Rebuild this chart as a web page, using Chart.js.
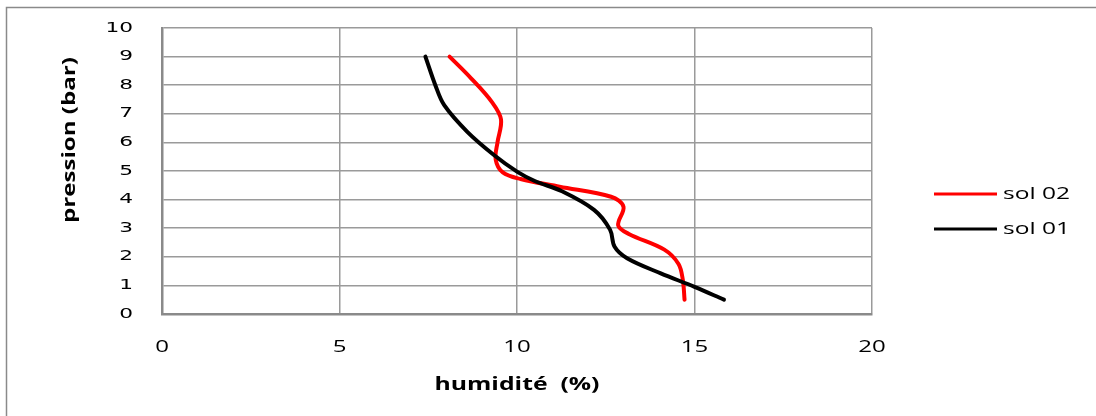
<!DOCTYPE html>
<html>
<head>
<meta charset="utf-8">
<script src="https://cdn.jsdelivr.net/npm/chart.js@4"></script>
<style>
html,body{margin:0;padding:0;background:#fff;}
#wrap{position:absolute;left:0;top:0;width:1096px;height:416px;}
</style>
</head>
<body>
<div id="wrap"><canvas id="c" width="1096" height="416"></canvas></div>
<script>
// Series: humidity (%) vs pressure (bar)
const sol02Humidite = [8.1, 8.7, 9.3, 9.55, 9.45, 9.4, 9.6, 10.1, 11.2, 12.65, 13.0, 12.85, 13.15, 14.15, 14.55, 14.67, 14.72];
const sol02Pression = [9.0, 8.25, 7.4, 6.8, 6.0, 5.4, 4.95, 4.72, 4.45, 4.1, 3.75, 3.1, 2.8, 2.25, 1.75, 1.2, 0.5];
const sol01Humidite = [7.42, 7.7, 7.95, 8.6, 9.35, 10.0, 10.5, 11.25, 12.17, 12.62, 12.75, 13.1, 14.05, 15.0, 15.83];
const sol01Pression = [9.0, 8.0, 7.3, 6.37, 5.56, 4.98, 4.65, 4.3, 3.64, 2.95, 2.35, 1.95, 1.42, 0.95, 0.5];
const seriesNames = ['sol 02', 'sol 01'];
const seriesColors = ['#ff0000', '#000000'];
const xTickValues = [0, 5, 10, 15, 20];
const yTickValues = [0, 1, 2, 3, 4, 5, 6, 7, 8, 9, 10];
const xTitle = 'humidité  (%)';
const yTitle = 'pression (bar)';

function toPoints(xs, ys){ return xs.map((x,i)=>({x:x, y:ys[i]})); }

// draw text widened along its reading direction by factor k
function drawWide(ctx, text, x, y, k, align){
  ctx.save();
  ctx.translate(x, y);
  ctx.scale(k, 1);
  ctx.textAlign = align;
  ctx.fillText(text, 0, 0);
  ctx.restore();
}
function drawStretched(ctx, text, x, y, length, align){
  drawWide(ctx, text, x, y, length / ctx.measureText(text).width, align);
}

const framePlugin = {
  id: 'frame',
  beforeDraw(chart){
    const ctx = chart.ctx;
    ctx.save();
    ctx.fillStyle = '#fff';
    ctx.fillRect(0,0,chart.width,chart.height);
    ctx.strokeStyle = '#8a8a8a';
    ctx.lineWidth = 1.5;
    ctx.beginPath();
    ctx.moveTo(6.5, 420);
    ctx.lineTo(6.5, 7.5);
    ctx.lineTo(1100, 7.5);
    ctx.stroke();
    ctx.restore();
  },
  afterDraw(chart){
    const ctx = chart.ctx;
    const area = chart.chartArea;
    const xs = chart.scales.x, ys = chart.scales.y;
    ctx.save();
    ctx.fillStyle = '#000';
    ctx.textBaseline = 'middle';
    // tick labels, positioned by the library's scales
    ctx.font = '16px "Open Sans", "DejaVu Sans", sans-serif';
    xs.ticks.forEach(t => drawWide(ctx, String(t.value), xs.getPixelForValue(t.value), 347, 1.5, 'center'));
    ctx.font = '14px "DejaVu Sans", sans-serif';
    ys.ticks.forEach(t => drawWide(ctx, String(t.value), 133, ys.getPixelForValue(t.value), 1.55, 'right'));
    // axis titles
    ctx.font = 'bold 17px "Open Sans", "DejaVu Sans", sans-serif';
    drawStretched(ctx, xTitle, (area.left+area.right)/2, 385, 165, 'center');
    ctx.save();
    ctx.translate(70, 140);
    ctx.rotate(-Math.PI/2);
    drawStretched(ctx, yTitle, 0, 0, 166, 'center');
    ctx.restore();
    // legend
    ctx.font = '17px "Open Sans", "DejaVu Sans", sans-serif';
    chart.data.datasets.forEach((ds, i) => {
      const y = 194 + i*35;
      ctx.strokeStyle = ds.borderColor;
      ctx.lineWidth = 3;
      ctx.beginPath();
      ctx.moveTo(934, y);
      ctx.lineTo(997, y);
      ctx.stroke();
      ctx.fillStyle = '#000';
      drawStretched(ctx, ds.label, 1003, y, 67, 'left');
    });
    ctx.restore();
  }
};

new Chart(document.getElementById('c'), {
  type: 'scatter',
  data: {
    datasets: [
      { label: seriesNames[0], data: toPoints(sol02Humidite, sol02Pression), borderColor: seriesColors[0], backgroundColor: seriesColors[0], showLine: true, tension: 0.35, borderWidth: 4, pointRadius: 0, order: 1, borderCapStyle: 'round', borderJoinStyle: 'round' },
      { label: seriesNames[1], data: toPoints(sol01Humidite, sol01Pression), borderColor: seriesColors[1], backgroundColor: seriesColors[1], showLine: true, tension: 0.35, borderWidth: 4, pointRadius: 0, order: 0, borderCapStyle: 'round', borderJoinStyle: 'round' }
    ]
  },
  options: {
    responsive: false,
    animation: false,
    events: [],
    layout: { padding: { left: 0, top: 28, right: 224, bottom: 0 } },
    plugins: { legend: { display: false }, tooltip: { enabled: false } },
    scales: {
      x: {
        type: 'linear', min: 0, max: 20,
        afterBuildTicks(scale){ scale.ticks = xTickValues.map(v=>({value:v})); },
        afterFit(scale){ scale.height = 102; },
        grid: { color: '#9a9a9a', lineWidth: 1.5, drawTicks: false },
        border: { color: '#8a8a8a', width: 2.5 },
        ticks: { display: false }
      },
      y: {
        type: 'linear', min: 0, max: 10,
        afterBuildTicks(scale){ scale.ticks = yTickValues.map(v=>({value:v})); },
        afterFit(scale){ scale.width = 162; },
        grid: { color: '#9a9a9a', lineWidth: 1.5, drawTicks: false },
        border: { color: '#8a8a8a', width: 2.5 },
        ticks: { display: false }
      }
    }
  },
  plugins: [framePlugin]
});
</script>
</body>
</html>
